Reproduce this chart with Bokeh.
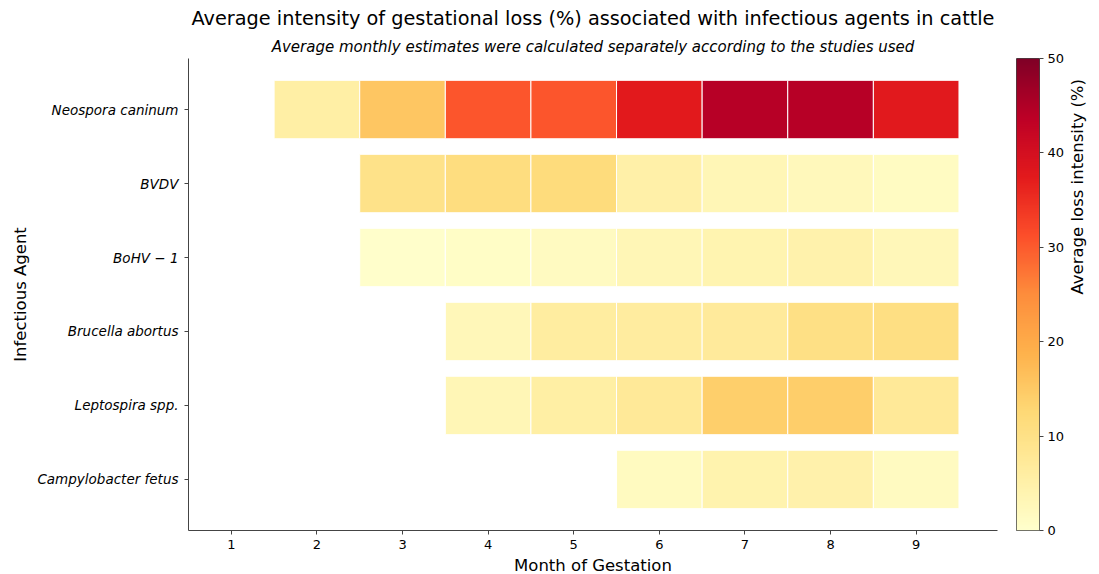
import numpy as np
from bokeh.plotting import figure
from bokeh.models import (ColumnDataSource, Range1d, FactorRange, LinearColorMapper,
                          FixedTicker, Title)
from bokeh.layouts import row
from bokeh.palettes import YlOrRd9
from bokeh.embed import file_html
from bokeh.resources import INLINE

# ---------------- data ----------------
months = [1, 2, 3, 4, 5, 6, 7, 8, 9]
agents = ["Neospora caninum", "BVDV", "BoHV − 1", "Brucella abortus",
          "Leptospira spp.", "Campylobacter fetus"]
neospora = [None, 5.6, 15.6, 30.6, 30.6, 37.5, 44.3, 44.3, 37.8]
bvdv = [None, None, 9.7, 11.2, 11.6, 5.1, 3.3, 2.4, 1.4]
bohv = [None, None, 0.3, 0.9, 1.7, 3.2, 4.0, 4.5, 2.8]
brucella = [None, None, None, 2.8, 6.3, 6.5, 7.2, 10.3, 10.6]
leptospira = [None, None, None, 3.3, 5.8, 7.5, 14.1, 14.3, 7.5]
campylobacter = [None, None, None, None, None, 1.8, 4.3, 4.7, 1.7]
series = [neospora, bvdv, bohv, brucella, leptospira, campylobacter]
cbar_ticks = [0, 10, 20, 30, 40, 50]

FONT = "DejaVu Sans"
LABEL_SIZE = "16.5px"

# ---------------- palette (YlOrRd, light -> dark) ----------------
base = list(reversed(YlOrRd9))
rgb = np.array([[int(c[i:i + 2], 16) for i in (1, 3, 5)] for c in base], dtype=float)
pos = np.linspace(0, 1, len(base))
t = np.linspace(0, 1, 256)
interp = np.stack([np.interp(t, pos, rgb[:, k]) for k in range(3)], axis=1)
palette = ["#%02x%02x%02x" % tuple(int(round(v)) for v in c) for c in interp]
mapper = LinearColorMapper(palette=palette, low=0, high=50)

# ---------------- source ----------------
xs, ys, vs = [], [], []
for agent, vals in zip(agents, series):
    for m, v in zip(months, vals):
        if v is not None:
            xs.append(m)
            ys.append(agent)
            vs.append(v)
src = ColumnDataSource(dict(month=xs, agent=ys, value=vs))

# ---------------- main figure ----------------
p = figure(x_range=Range1d(0.5, 9.95),
           y_range=FactorRange(factors=list(reversed(agents)), range_padding=0.19,
                               range_padding_units="absolute"),
           frame_width=809, frame_height=472,
           min_border_left=188, min_border_right=5, min_border_top=58, min_border_bottom=5,
           output_backend="svg", toolbar_location=None)

p.rect(x="month", y="agent", width=1, height=0.79, source=src,
       fill_color={"field": "value", "transform": mapper},
       line_color="white", line_width=1)

p.add_layout(Title(text="Average monthly estimates were calculated separately according to the studies used",
                   text_font=FONT, text_font_size="15px", text_font_style="italic",
                   align="center", text_color="black", standoff=6), "above")
p.add_layout(Title(text="Average intensity of gestational loss (%) associated with infectious agents in cattle",
                   text_font=FONT, text_font_size="19.3px", text_font_style="normal",
                   align="center", text_color="black", standoff=6), "above")

p.outline_line_color = None
p.xgrid.grid_line_color = None
p.ygrid.grid_line_color = None
p.background_fill_color = "white"

p.xaxis.ticker = FixedTicker(ticks=months)
p.xaxis.axis_label = "Month of Gestation"
p.yaxis.axis_label = "Infectious Agent"
for ax in (p.xaxis, p.yaxis):
    ax.axis_line_color = "#444444"
    ax.axis_line_width = 1
    ax.major_tick_line_color = "#444444"
    ax.major_tick_out = 4
    ax.major_tick_in = 0
    ax.minor_tick_line_color = None
    ax.major_label_text_font = FONT
    ax.major_label_text_font_size = "13px"
    ax.major_label_text_color = "black"
    ax.axis_label_text_font = FONT
    ax.axis_label_text_font_size = LABEL_SIZE
    ax.axis_label_text_font_style = "normal"
    ax.axis_label_text_color = "black"
    ax.major_label_standoff = 5
    ax.axis_label_standoff = 4
p.yaxis.major_label_text_font_size = "13.5px"
p.yaxis.major_label_text_font_style = "italic"
p.yaxis.major_label_standoff = 6
p.yaxis.axis_label_standoff = 4

# ---------------- colorbar figure ----------------
cb = figure(x_range=Range1d(0, 1), y_range=Range1d(0, 50),
            frame_width=23, frame_height=472, y_axis_location="right",
            min_border_left=14, min_border_right=0, min_border_top=58,
            min_border_bottom=20, output_backend="svg", toolbar_location=None)
grad = np.linspace(0, 50, 256).reshape(-1, 1)
cb.image(image=[grad], x=0, y=0, dw=1, dh=50, color_mapper=mapper)
cb.xaxis.visible = False
cb.xgrid.grid_line_color = None
cb.ygrid.grid_line_color = None
cb.outline_line_color = "#444444"
cb.outline_line_width = 1
cb.yaxis.ticker = FixedTicker(ticks=cbar_ticks)
cb.yaxis.axis_line_color = None
cb.yaxis.major_tick_line_color = "#444444"
cb.yaxis.major_tick_out = 4
cb.yaxis.major_tick_in = 0
cb.yaxis.minor_tick_line_color = None
cb.yaxis.major_label_text_font = FONT
cb.yaxis.major_label_text_font_size = "13px"
cb.yaxis.major_label_text_color = "black"
cb.yaxis.major_label_standoff = 4
cb.yaxis.axis_label = "Average loss intensity (%)"
cb.yaxis.axis_label_orientation = np.pi / 2
cb.yaxis.axis_label_text_font = FONT
cb.yaxis.axis_label_text_font_size = LABEL_SIZE
cb.yaxis.axis_label_text_font_style = "normal"
cb.yaxis.axis_label_text_color = "black"
cb.yaxis.axis_label_standoff = 10

layout = row(p, cb)
open("out.html", "w").write(file_html(layout, INLINE))
